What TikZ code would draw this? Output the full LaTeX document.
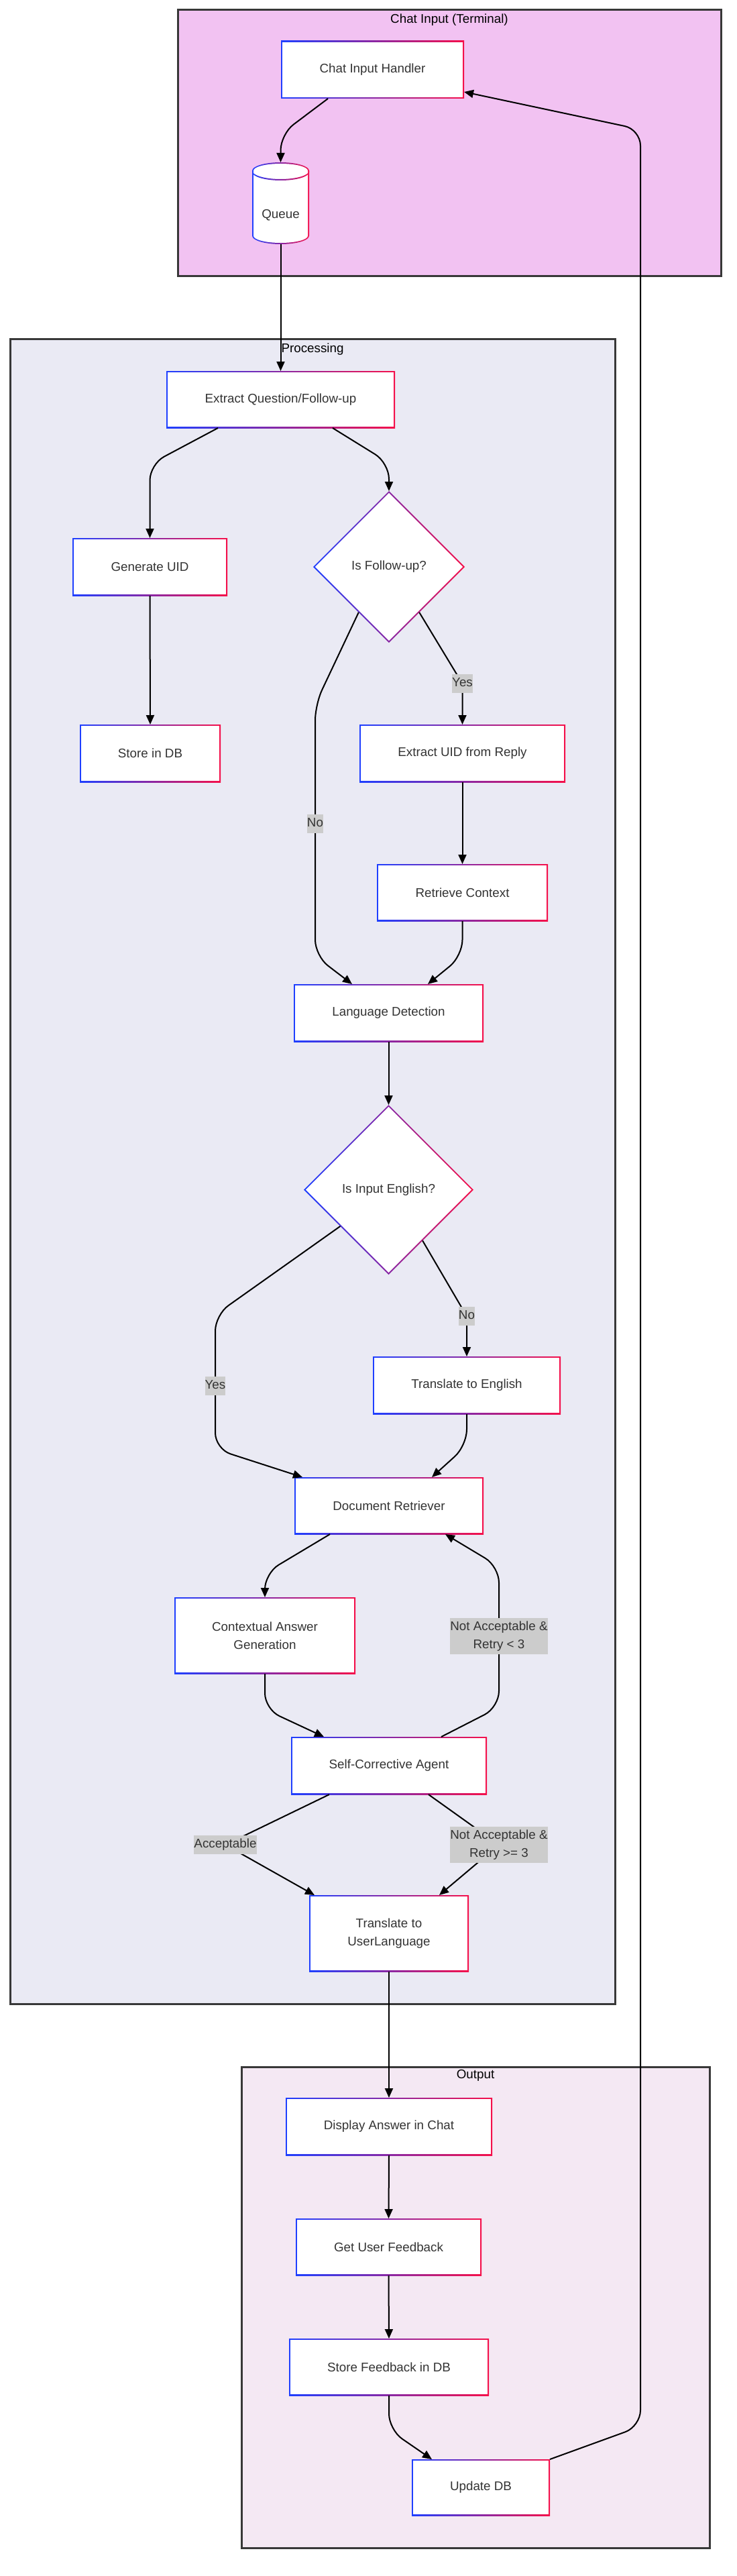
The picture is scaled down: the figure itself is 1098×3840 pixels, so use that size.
\documentclass[tikz,border=0pt]{standalone}
\usepackage{fontspec}
\setmainfont{Liberation Sans}
\usetikzlibrary{calc,arrows.meta,shapes.geometric}
\definecolor{nblue}{HTML}{1E3FFF}
\definecolor{nred}{HTML}{F5104A}
\definecolor{txt}{HTML}{333333}
\definecolor{chatbg}{HTML}{F2C2F2}
\definecolor{procbg}{HTML}{EAEAF4}
\definecolor{outbg}{HTML}{F4E8F3}
\definecolor{framec}{HTML}{383838}
\definecolor{lblbg}{HTML}{CCCCCC}
\pgfdeclarelayer{frames}
\pgfdeclarelayer{borders}
\pgfsetlayers{frames,borders,main}
\newcommand{\nfont}{\fontsize{18.8}{27.4}\selectfont}
\tikzset{
  box/.style={rectangle, draw=none, outer sep=0pt, inner sep=2pt, text=txt, align=center, font=\nfont},
  dia/.style={diamond, draw=none, outer sep=0pt, inner sep=0pt, text=txt, font=\nfont},
  ftitle/.style={text=black, inner sep=0pt, font=\nfont},
  elabel/.style={fill=lblbg, text=txt, inner xsep=0pt, inner ysep=5pt, align=center, font=\nfont},
  elabelone/.style={elabel, text height=14pt, text depth=4.5pt},
  flow/.style={draw=black, line width=2pt, -{Triangle[length=14pt,width=12pt]}, rounded corners=24pt},
  sharpflow/.style={draw=black, line width=2pt, -{Triangle[length=14pt,width=12pt]}},
  frame/.style={draw=framec, line width=3pt},
}
\begin{document}
\begin{tikzpicture}[x=1pt, y=-1pt]
\useasboundingbox (0,0) rectangle (1098,3840);

% frames
\begin{pgfonlayer}{frames}
\draw[frame, fill=chatbg] (265,15) rectangle (1075,411);
\draw[frame, fill=procbg] (15,505) rectangle (917,2987);
\draw[frame, fill=outbg] (360,3081) rectangle (1058,3798);
\end{pgfonlayer}
\node[ftitle] (tchat) at (670,30) {Chat Input (Terminal)};
\node[ftitle] (tproc) at (466,521) {Processing};
\node[ftitle] (tout) at (709,3094) {Output};

% nodes
\node[box, minimum width=273pt, minimum height=86pt] (cih) at (555.5,104) {Chat Input Handler};
\node[box, minimum width=85pt, minimum height=122pt] (q) at (418.5,303) {};
\node[box, inner sep=0pt] (qt) at (418.5,321) {Queue};
\node[box, minimum width=341pt, minimum height=85pt] (eq) at (418.5,595.5) {Extract Question/Follow-up};
\node[box, minimum width=231pt, minimum height=86pt] (gu) at (223.5,845) {Generate UID};
\node[dia, minimum width=226pt, minimum height=226pt] (fu) at (580,845) {Is Follow-up?};
\node[box, minimum width=210pt, minimum height=86pt] (sdb) at (224,1123) {Store in DB};
\node[box, minimum width=307pt, minimum height=86pt] (eu) at (689.5,1123) {Extract UID from Reply};
\node[box, minimum width=255pt, minimum height=85pt] (rc) at (689.5,1330.5) {Retrieve Context};
\node[box, minimum width=283pt, minimum height=86pt] (ld) at (579.5,1510) {Language Detection};
\node[dia, minimum width=253pt, minimum height=253pt] (ie) at (579.5,1773.5) {Is Input English?};
\node[box, minimum width=280pt, minimum height=86pt] (te) at (696,2065) {Translate to English};
\node[box, minimum width=282pt, minimum height=85pt] (dr) at (580,2244.5) {Document Retriever};
\node[box, minimum width=270pt, minimum height=114pt] (cag) at (395,2438) {Contextual Answer\\Generation};
\node[box, minimum width=292pt, minimum height=86pt] (sca) at (580,2632) {Self-Corrective Agent};
\node[box, minimum width=238pt, minimum height=114pt] (tul) at (580,2882) {Translate to\\UserLanguage};
\node[box, minimum width=308pt, minimum height=86pt] (dac) at (580,3170) {Display Answer in Chat};
\node[box, minimum width=277pt, minimum height=85pt] (guf) at (579.5,3349.5) {Get User Feedback};
\node[box, minimum width=298pt, minimum height=85pt] (sfd) at (580,3528.5) {Store Feedback in DB};
\node[box, minimum width=206pt, minimum height=84pt] (udb) at (717,3708) {Update DB};

% gradient borders
\begin{pgfonlayer}{borders}
\foreach \n in {cih,eq,gu,sdb,eu,rc,ld,te,dr,cag,sca,tul,dac,guf,sfd,udb}{
  \shade[left color=nblue, right color=nred] (\n.north west) rectangle (\n.south east);
  \fill[white] ($(\n.north west)+(2,2)$) rectangle ($(\n.south east)+(-2,-2)$);
}
\foreach \n in {fu,ie}{
  \shade[left color=nblue, right color=nred] (\n.north) -- (\n.east) -- (\n.south) -- (\n.west) -- cycle;
  \fill[white] ($(\n.north)+(0,2.8)$) -- ($(\n.east)+(-2.8,0)$) -- ($(\n.south)+(0,-2.8)$) -- ($(\n.west)+(2.8,0)$) -- cycle;
}
\coordinate (qL1) at ($(q.north west)+(0,12.5)$);
\coordinate (qL2) at ($(q.south west)+(0,-12.5)$);
\coordinate (qR1) at ($(q.north east)+(0,12.5)$);
\shade[left color=nblue, right color=nred] (qL1) -- (qL2)
  arc[start angle=180, end angle=360, x radius=42.5pt, y radius=12.5pt] -- (qR1)
  arc[start angle=0, end angle=180, x radius=42.5pt, y radius=12.5pt] -- cycle;
\fill[white] ($(qL1)+(2,0)$) -- ($(qL2)+(2,0)$)
  arc[start angle=180, end angle=360, x radius=40.5pt, y radius=10.5pt] -- ($(qR1)+(-2,0)$)
  arc[start angle=0, end angle=180, x radius=40.5pt, y radius=10.5pt] -- cycle;
\shade[left color=nblue, right color=nred] (qL1)
  arc[start angle=180, end angle=360, x radius=42.5pt, y radius=12.5pt] -- ($(qR1)+(0,2)$)
  arc[start angle=360, end angle=180, x radius=42.5pt, y radius=12.5pt] -- cycle;
\end{pgfonlayer}

% connectors
\draw[flow] ($(cih.south)+(-66.5,0)$) -- (418.5,200) -- (q.north);
\draw[flow] (q.south) -- (eq.north);
\draw[flow] ($(eq.south)+(-93.5,0)$) -- (223.5,692) -- (gu.north);
\draw[flow] ($(eq.south)+(77.5,0)$) -- (580,690) -- (fu.north);
\draw[flow] (gu.south) -- (sdb.north);
\draw[sharpflow] ($(fu.east)!0.6!(fu.south)$) -- (689.5,1019) node[elabelone] (lyes1) {Yes} -- (eu.north);
\draw[flow] ($(fu.west)!0.6!(fu.south)$) -- (470,1050) -- (470,1425) -- ($(ld.north)+(-54.5,0)$);
\node[elabelone] (lno1) at (470,1228) {No};
\draw[flow] (eu.south) -- (rc.north);
\draw[flow] (rc.south) -- (689.5,1425) -- ($(ld.north)+(58.5,0)$);
\draw[flow] (ld.south) -- (ie.north);
\draw[flow] ($(ie.west)!0.43!(ie.south)$) -- (321,1960) -- (321,2160) -- ($(dr.north)+(-129,0)$);
\node[elabelone] (lyes2) at (321,2066) {Yes};
\draw[sharpflow] ($(ie.east)!0.6!(ie.south)$) -- (696,1962) node[elabelone] (lno2) {No} -- (te.north);
\draw[flow] (te.south) -- (696,2155) -- ($(dr.north)+(64,0)$);
\draw[flow] ($(dr.south)+(-88,0)$) -- (395,2345) -- (cag.north);
\draw[flow] ($(sca.north)+(78,0)$) -- (744,2545) -- (744,2335) -- ($(dr.south)+(84,0)$);
\node[elabel] (lretry) at (744,2439) {Not Acceptable \&\\Retry < 3};
\draw[flow] (cag.south) -- (395,2548) -- ($(sca.north)+(-97,0)$);
\draw[sharpflow] ($(sca.south)+(-89,0)$) -- (336,2750) node[elabelone] (lacc) {Acceptable} -- ($(tul.north)+(-111,0)$);
\draw[sharpflow] ($(sca.south)+(59,0)$) -- (744,2750) node[elabel] (lgive) {Not Acceptable \&\\Retry >= 3} -- ($(tul.north)+(75,0)$);
\draw[flow] (tul.south) -- (dac.north);
\draw[flow] (dac.south) -- (guf.north);
\draw[flow] (guf.south) -- (sfd.north);
\draw[flow] (sfd.south) -- (580,3622) -- ($(udb.north)+(-73,0)$);
\draw[flow] (udb.north east) -- (955,3617) -- (955,193) -- ($(cih.south east)+(0,-10)$);
\end{tikzpicture}
\end{document}
